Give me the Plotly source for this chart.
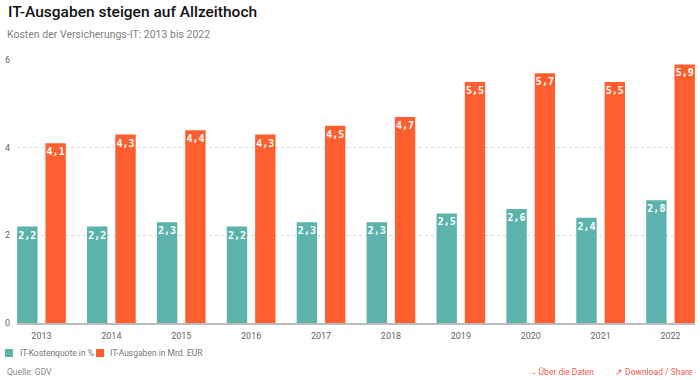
import plotly.graph_objects as go

years = ["2013", "2014", "2015", "2016", "2017", "2018", "2019", "2020", "2021", "2022"]
kostenquote = [2.2, 2.2, 2.3, 2.2, 2.3, 2.3, 2.5, 2.6, 2.4, 2.8]
ausgaben = [4.1, 4.3, 4.4, 4.3, 4.5, 4.7, 5.5, 5.7, 5.5, 5.9]
y_ticks = [0, 2, 4, 6]
series_names = ["IT-Kostenquote in %", "IT-Ausgaben in Mrd. EUR"]

W, H = 700, 380
L, R, T, B = 17, 5, 60, 57
PW, PH = W - L - R, H - T - B


def px(x):
    return (x - L) / PW


def py(y):
    return (H - B - y) / PH


def fmt(v):
    return f"{v:.1f}".replace(".", ",")


TEAL = "#5bb3ac"
ORANGE = "#ff5f2e"
label_font = dict(family="DejaVu Sans Mono", size=10, color="white", weight="bold")

fig = go.Figure()
for name, vals, col in [(series_names[0], kostenquote, TEAL), (series_names[1], ausgaben, ORANGE)]:
    fig.add_trace(go.Bar(
        x=years, y=vals, name=name,
        marker=dict(color=col, line=dict(width=0)),
        text=[fmt(v) for v in vals], textposition="inside",
        insidetextanchor="end", textangle=0, textfont=label_font,
        hoverinfo="skip", showlegend=False,
    ))

fig.update_layout(
    width=W, height=H,
    margin=dict(l=L, r=R, t=T, b=B, pad=0),
    paper_bgcolor="white", plot_bgcolor="white",
    barmode="group", bargap=0.19, bargroupgap=0.28,
    font=dict(family="Roboto", color="#555"),
    showlegend=False,
    uniformtext=dict(mode="show", minsize=9),
)

fig.update_xaxes(
    type="category", range=[-0.35, 9.35], automargin=False,
    showgrid=False, showline=True, linecolor="#bbbbbb", linewidth=2,
    ticks="", tickfont=dict(size=9, color="#666"), ticklabelstandoff=3,
    fixedrange=True,
)
fig.update_yaxes(
    range=[0, 6], tickvals=y_ticks, ticktext=[str(v) for v in y_ticks],
    automargin=False,
    showgrid=True, gridcolor="#d8d8d8", griddash="dot", gridwidth=1,
    zeroline=False, showline=False, ticks="",
    tickfont=dict(size=9, color="#666"), ticklabelstandoff=6,
    fixedrange=True,
)

annotations = [
    dict(text="IT-Ausgaben steigen auf Allzeithoch", x=px(6), y=py(12),
         font=dict(size=15.5, color="#111", weight=500)),
    dict(text="Kosten der Versicherungs-IT: 2013 bis 2022", x=px(5), y=py(35),
         font=dict(size=10.5, color="#7f7f7f")),
    dict(text="Quelle: GDV", x=px(5), y=py(372),
         font=dict(size=8.5, color="#888")),
    # legend
    dict(text=series_names[0], x=px(18), y=py(353), font=dict(size=8.5, color="#777")),
    dict(text=series_names[1], x=px(108), y=py(353), font=dict(size=8.5, color="#777")),
]
for a in annotations:
    a.update(xref="paper", yref="paper", xanchor="left", yanchor="middle",
             showarrow=False)

shapes = []
for x0, col in [(5, TEAL), (96, ORANGE)]:
    shapes.append(dict(type="rect", xref="paper", yref="paper",
                       x0=px(x0), x1=px(x0 + 8), y0=py(349), y1=py(357),
                       fillcolor=col, line=dict(width=0)))

for txt, xp in [("\u2192 Über die Daten", 596), ("\u2197 Download / Share", 695)]:
    annotations.append(dict(
        text=txt, x=px(xp), y=py(372), xref="paper", yref="paper",
        xanchor="right", yanchor="middle", showarrow=False,
        font=dict(size=8.5, color="#f0584a"),
    ))

fig.update_layout(annotations=annotations, shapes=shapes)

fig.write_html(
    "out.html",
    config={"displayModeBar": False},
    post_script="document.body.style.margin='0';document.body.style.overflow='hidden';",
)
